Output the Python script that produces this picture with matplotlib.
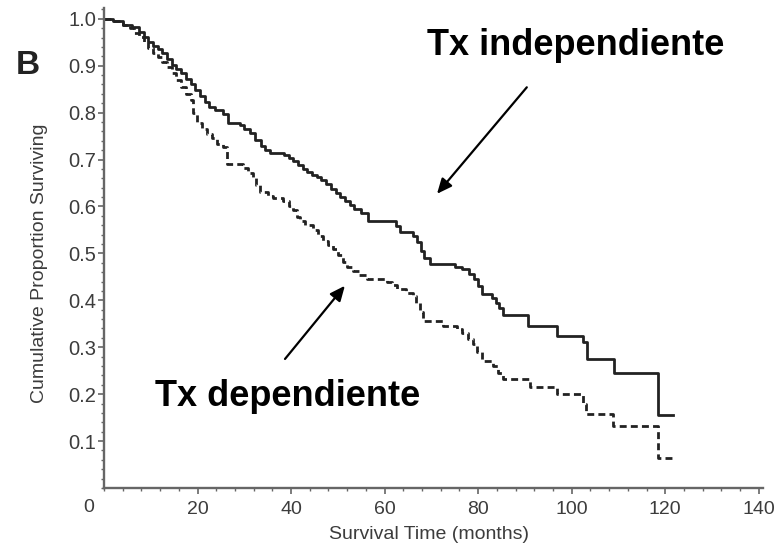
import matplotlib
matplotlib.use("Agg")
import matplotlib.pyplot as plt
from matplotlib.ticker import MultipleLocator, FixedLocator, FormatStrFormatter
import matplotlib.transforms as mtransforms

plt.rcParams['font.family'] = ['Liberation Sans', 'DejaVu Sans']
plt.rcParams['lines.scale_dashes'] = False

# Kaplan-Meier steps: time (months) and survival after the event
indep_t = [0, 2, 4, 6, 7.5, 8.5, 9.5, 10.5, 11.5, 12.5, 13.5, 14.5, 15.5, 16.5,
           17.5, 18.5, 19.5, 20.5, 21.5, 22.5, 23.7, 25.4, 26.5, 29.0, 30.0,
           31.2, 32.2, 33.5, 34.5, 35.5, 38.5, 39.5, 40.5, 41.5, 42.5, 43.5,
           44.5, 45.5, 46.5, 47.5, 48.5, 49.5, 50.5, 51.5, 52.5, 53.5, 55.0,
           56.5, 62.5, 63.2, 66.0, 67.0, 67.8, 68.5, 69.7, 75.0, 76.5, 78.0,
           79.2, 80.0, 80.8, 82.9, 83.8, 84.5, 85.3, 90.6, 96.8, 102.4, 103.2,
           109.0, 118.4, 121.6]
indep_s = [1.0, 0.995, 0.987, 0.982, 0.972, 0.962, 0.950, 0.943, 0.935, 0.927,
           0.915, 0.902, 0.893, 0.884, 0.872, 0.862, 0.848, 0.835, 0.822, 0.812,
           0.805, 0.797, 0.777, 0.773, 0.766, 0.756, 0.742, 0.728, 0.720, 0.715,
           0.710, 0.703, 0.697, 0.688, 0.679, 0.673, 0.668, 0.662, 0.656, 0.648,
           0.638, 0.628, 0.621, 0.612, 0.603, 0.594, 0.587, 0.570, 0.558, 0.546,
           0.538, 0.525, 0.505, 0.490, 0.478, 0.472, 0.466, 0.457, 0.445, 0.430,
           0.414, 0.405, 0.395, 0.383, 0.368, 0.346, 0.324, 0.312, 0.275, 0.245,
           0.155, 0.155]

dep_t = [0, 2, 4, 5.5, 6.5, 7.5, 8.5, 9.5, 10.5, 11.5, 12.5, 13.5, 14.5, 15.5,
         16.5, 17.5, 18.5, 19.0, 19.9, 21.0, 22.0, 23.0, 24.1, 25.4, 26.3, 29.7,
         30.8, 31.8, 32.6, 33.3, 35.0, 36.1, 38.2, 39.5, 40.4, 41.2, 41.9, 43.0,
         44.7, 45.8, 46.8, 48.0, 49.0, 50.0, 51.1, 52.0, 53.2, 54.5, 56.2, 60.5,
         61.5, 62.6, 64.5, 66.0, 66.8, 67.5, 68.2, 72.4, 75.4, 76.5, 77.8, 78.8,
         79.8, 80.8, 83.1, 84.2, 85.3, 91.0, 96.8, 102.4, 103.0, 108.8, 118.4,
         121.6]
dep_s = [1.0, 0.995, 0.987, 0.980, 0.970, 0.962, 0.950, 0.938, 0.927, 0.918,
         0.908, 0.897, 0.885, 0.870, 0.855, 0.840, 0.826, 0.800, 0.777, 0.765,
         0.755, 0.745, 0.734, 0.726, 0.691, 0.682, 0.672, 0.662, 0.645, 0.630,
         0.622, 0.619, 0.612, 0.600, 0.592, 0.578, 0.568, 0.560, 0.549, 0.538,
         0.527, 0.518, 0.510, 0.497, 0.482, 0.472, 0.463, 0.455, 0.446, 0.440,
         0.432, 0.425, 0.416, 0.410, 0.395, 0.375, 0.356, 0.346, 0.339, 0.330,
         0.318, 0.307, 0.290, 0.271, 0.260, 0.246, 0.232, 0.215, 0.200, 0.180,
         0.157, 0.132, 0.064, 0.064]

x_ticks = [20, 40, 60, 80, 100, 120, 140]
y_ticks = [0.1, 0.2, 0.3, 0.4, 0.5, 0.6, 0.7, 0.8, 0.9, 1.0]

fig = plt.figure(figsize=(7.78, 5.44), dpi=100)
ax = fig.add_axes([104/778, 1 - 488/544, 659/778, 480/544])

ax.step(indep_t, indep_s, where='post', color='#222222', lw=2.0)
ax.step(dep_t, dep_s, where='post', color='#222222', lw=2.0, dashes=[5, 3])

ax.set_xlim(0, 140.9)
ax.set_ylim(0, 1.023)

for s in ['top', 'right']:
    ax.spines[s].set_visible(False)
for s in ['left', 'bottom']:
    ax.spines[s].set_color('#666666')
    ax.spines[s].set_linewidth(1.7)

ax.xaxis.set_major_locator(FixedLocator(x_ticks))
ax.xaxis.set_minor_locator(MultipleLocator(4))
ax.yaxis.set_major_locator(FixedLocator(y_ticks))
ax.yaxis.set_minor_locator(MultipleLocator(0.02))
ax.yaxis.set_major_formatter(FormatStrFormatter('%.1f'))

ax.tick_params(which='major', direction='out', length=4.3, width=1.2,
               color='#666666', labelcolor='#3c3c3c')
ax.tick_params(which='minor', direction='out', length=2.3, width=1.0,
               color='#666666')
ax.tick_params(axis='x', labelsize=14, pad=5)
ax.tick_params(axis='y', labelsize=14.5, pad=1.5)

# SPSS puts the "0" off to the left of the corner
tr = mtransforms.blended_transform_factory(ax.transData, ax.transAxes)
ax.text(-3.2, -0.04, '0', transform=tr, ha='center', va='center',
        fontsize=14, color='#3c3c3c')

ax.set_xlabel('Survival Time (months)', fontsize=14, color='#3c3c3c')
ax.xaxis.set_label_coords(0.493, -0.080)
ax.set_ylabel('Cumulative Proportion Surviving', fontsize=14, color='#3c3c3c')
ax.yaxis.set_label_coords(-0.0857, 0.468)

fig.text(27.5/778, 1 - 65/544, 'B', fontsize=24, fontweight='bold',
         ha='center', va='center', color='#222222')

ax.text(69.0, 0.922, 'Tx independiente', fontsize=26, fontweight='bold',
        ha='left', va='baseline', color='black')
ax.text(10.9, 0.175, 'Tx dependiente', fontsize=26, fontweight='bold',
        ha='left', va='baseline', color='black')

arrow = dict(arrowstyle='-|>,head_length=0.9,head_width=0.4', color='black',
             lw=1.6, shrinkA=0, shrinkB=0)
ax.annotate('', xy=(71.2, 0.627), xytext=(90.4, 0.854), arrowprops=arrow)
ax.annotate('', xy=(51.5, 0.431), xytext=(38.7, 0.275), arrowprops=arrow)

fig.savefig('out.png', dpi=100)
